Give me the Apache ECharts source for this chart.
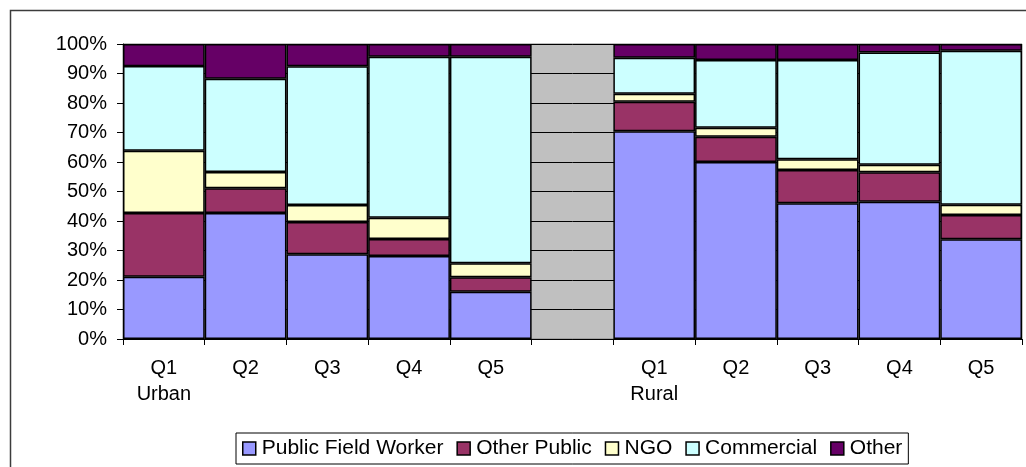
<!DOCTYPE html>
<html>
<head>
<meta charset="utf-8">
<script src="https://cdn.jsdelivr.net/npm/echarts@6/dist/echarts.min.js"></script>
<style>
  html, body { margin: 0; padding: 0; background: #fff; }
  #chart { width: 1026px; height: 467px; }
</style>
</head>
<body>
<div id="chart"></div>
<script>
// Empty category in the middle separates the urban and rural quintiles
const categories = ['Q1\nUrban', 'Q2', 'Q3', 'Q4', 'Q5', '', 'Q1\nRural', 'Q2', 'Q3', 'Q4', 'Q5'];

// Shares in percent (each column adds up to 100)
const publicFieldWorker = [21.1, 42.7, 28.7, 28.1, 16.0, '-', 70.4, 60.0, 46.0, 46.5, 33.8];
const otherPublic = [21.6, 8.4, 11.0, 5.8, 4.9, '-', 10.0, 8.6, 11.3, 10.0, 8.2];
const ngo = [21.1, 5.5, 5.7, 7.2, 4.8, '-', 2.7, 3.0, 3.6, 2.6, 3.5];
const commercial = [28.7, 31.6, 47.1, 54.6, 70.0, '-', 12.2, 23.0, 33.7, 38.0, 52.2];
const other = [7.5, 11.8, 7.5, 4.3, 4.3, '-', 4.7, 5.4, 5.4, 2.9, 2.3];

const seriesNames = ['Public Field Worker', 'Other Public', 'NGO', 'Commercial', 'Other'];
const seriesData = [publicFieldWorker, otherPublic, ngo, commercial, other];
const colors = ['#9999ff', '#993366', '#ffffcc', '#ccffff', '#660066'];

const chart = echarts.init(document.getElementById('chart'));
const font = 'Liberation Sans, Arial, sans-serif';

chart.setOption({
  animation: false,
  color: colors,
  textStyle: { fontFamily: font, color: '#000' },
  // Outer chart frame
  graphic: [
    {
      type: 'rect',
      left: 8,
      top: 8,
      shape: { width: 1040, height: 480 },
      style: { fill: null, stroke: '#3c3c3c', lineWidth: 1.5 },
      silent: true
    }
  ],
  grid: {
    left: 123,
    right: 4,
    top: 44,
    bottom: 128,
    show: true,
    // Old Excel grey plot area, only visible in the empty column
    backgroundColor: '#c0c0c0',
    borderColor: '#808080',
    borderWidth: 1
  },
  xAxis: {
    type: 'category',
    data: categories,
    axisLine: { lineStyle: { color: '#000', width: 1 } },
    axisTick: { show: true, length: 6, lineStyle: { color: '#000' } },
    axisLabel: {
      fontSize: 20,
      lineHeight: 26,
      margin: 16,
      color: '#000',
      fontFamily: font,
      interval: 0
    }
  },
  yAxis: {
    type: 'value',
    min: 0,
    max: 100,
    interval: 10,
    axisLine: { show: true, lineStyle: { color: '#000', width: 1 } },
    axisTick: { show: true, length: 6, lineStyle: { color: '#000' } },
    axisLabel: {
      formatter: '{value}%',
      fontSize: 20,
      margin: 16,
      color: '#000',
      fontFamily: font
    },
    splitLine: { show: true, lineStyle: { color: '#000', width: 1 } }
  },
  legend: {
    data: seriesNames,
    left: 236,
    top: 433,
    orient: 'horizontal',
    icon: 'rect',
    itemWidth: 13,
    itemHeight: 13,
    itemGap: 13,
    padding: [5, 6, 5, 6],
    borderColor: '#000',
    borderWidth: 1,
    backgroundColor: '#fff',
    itemStyle: { borderColor: '#000', borderWidth: 1.5 },
    textStyle: { fontSize: 21, color: '#000', fontFamily: font, padding: [0, 0, 0, 1] }
  },
  series: seriesNames.map((name, i) => ({
    name: name,
    type: 'bar',
    stack: 'total',
    data: seriesData[i],
    barCategoryGap: 0,
    barGap: 0,
    itemStyle: {
      color: colors[i],
      borderColor: '#000',
      borderWidth: 1.5
    }
  }))
});
</script>
</body>
</html>
